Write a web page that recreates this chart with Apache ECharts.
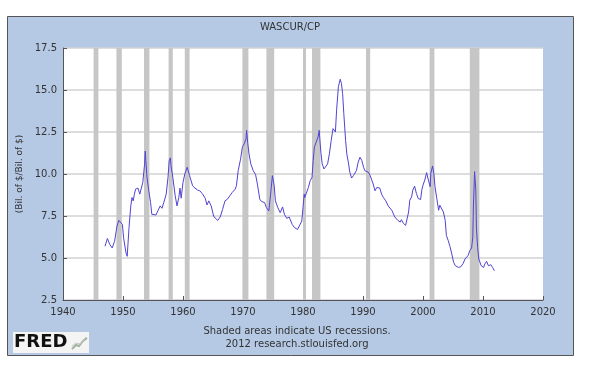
<!DOCTYPE html>
<html>
<head>
<meta charset="utf-8">
<script src="https://cdn.jsdelivr.net/npm/echarts@6/dist/echarts.min.js"></script>
<style>html,body{margin:0;padding:0;background:#fff}#c{width:600px;height:366px}</style>
</head>
<body>
<div id="c"></div>
<script>
var years = [1947.0,1947.4,1947.8,1948.2,1948.6,1949.0,1949.3,1949.6,1949.9,1950.1,1950.5,1950.7,1951.0,1951.3,1951.5,1951.7,1951.9,1952.1,1952.5,1952.8,1953.1,1953.3,1953.6,1953.7,1953.8,1954.0,1954.3,1954.6,1954.8,1955.1,1955.5,1955.8,1956.2,1956.5,1956.8,1957.2,1957.5,1957.7,1957.9,1958.0,1958.3,1958.7,1959.0,1959.3,1959.5,1959.7,1960.0,1960.3,1960.7,1961.1,1961.6,1962.0,1962.4,1962.8,1963.2,1963.7,1964.0,1964.3,1964.7,1965.1,1965.4,1965.8,1966.2,1966.6,1967.0,1967.4,1967.8,1968.2,1968.7,1968.9,1969.2,1969.6,1969.9,1970.2,1970.5,1970.6,1970.8,1971.0,1971.3,1971.7,1972.1,1972.4,1972.8,1973.1,1973.6,1973.9,1974.3,1974.6,1974.9,1975.2,1975.4,1975.8,1976.2,1976.6,1976.9,1977.3,1977.7,1978.2,1978.6,1979.1,1979.4,1979.8,1980.0,1980.2,1980.3,1980.6,1980.9,1981.2,1981.5,1981.7,1981.9,1982.2,1982.5,1982.7,1982.8,1983.0,1983.2,1983.5,1983.8,1984.1,1984.4,1984.7,1985.0,1985.2,1985.4,1985.6,1985.9,1986.2,1986.4,1986.6,1986.8,1987.1,1987.3,1987.6,1987.8,1988.1,1988.4,1988.7,1988.9,1989.2,1989.5,1989.8,1990.1,1990.3,1990.6,1990.9,1991.2,1991.4,1991.7,1992.0,1992.3,1992.6,1992.8,1993.1,1993.4,1993.8,1994.2,1994.8,1995.3,1995.8,1996.2,1996.4,1996.7,1997.1,1997.4,1997.6,1997.8,1998.1,1998.3,1998.6,1998.9,1999.2,1999.6,1999.8,2000.0,2000.3,2000.6,2000.9,2001.2,2001.3,2001.6,2001.8,2002.0,2002.3,2002.6,2002.8,2003.1,2003.4,2003.7,2003.9,2004.2,2004.5,2004.8,2005.1,2005.4,2005.9,2006.3,2006.7,2007.0,2007.3,2007.5,2007.8,2008.1,2008.3,2008.4,2008.6,2008.8,2008.9,2009.1,2009.3,2009.7,2010.1,2010.3,2010.6,2010.9,2011.3,2011.6,2011.9];
var values = [5.7,6.16,5.8,5.6,6.0,6.9,7.24,7.14,7.0,6.2,5.3,5.1,6.8,8.1,8.6,8.4,8.8,9.1,9.16,8.8,8.7,9.5,10.6,11.36,10.8,9.8,9.0,8.3,7.6,7.5,7.56,7.8,8.1,7.96,8.3,8.8,9.8,10.8,10.96,10.5,9.8,8.7,8.1,8.6,9.16,8.56,9.5,10.0,10.4,9.9,9.3,9.16,9.05,9.0,8.84,8.56,8.16,8.4,8.1,7.5,7.36,7.24,7.44,7.9,8.4,8.5,8.7,8.9,9.1,9.3,10.2,10.9,11.6,11.8,12.1,12.6,11.8,11.2,10.6,10.2,9.96,9.4,8.5,8.36,8.3,8.0,7.8,8.8,9.9,9.3,8.4,8.0,7.7,8.04,7.6,7.36,7.44,7.0,6.8,6.7,6.8,7.2,8.0,8.8,8.6,8.7,9.2,9.6,9.8,10.8,11.6,11.9,12.2,12.6,12.1,11.2,10.6,10.3,10.2,10.6,11.2,12.0,12.7,12.6,12.5,13.8,15.2,15.64,15.4,14.8,13.6,12.0,11.2,10.6,10.1,9.76,9.9,9.84,10.2,10.7,11.0,10.8,10.4,10.2,10.24,10.1,9.9,9.7,9.4,9.0,9.2,9.1,9.16,8.8,8.6,8.4,8.1,7.84,7.44,7.24,7.14,7.28,7.08,6.94,6.84,7.74,8.44,8.64,9.04,9.28,8.84,8.54,8.48,9.04,9.34,9.64,10.08,9.64,9.24,10.04,10.48,10.04,9.24,8.54,7.84,8.14,8.24,7.74,7.24,6.34,6.04,5.68,5.24,4.74,4.54,4.44,4.48,4.68,4.94,5.0,5.14,5.44,5.6,6.24,8.04,10.14,9.04,6.84,5.64,4.94,4.54,4.44,4.64,4.8,4.54,4.6,4.44,4.24];
var recStart = [1945.1,1948.9,1953.5,1957.6,1960.3,1969.9,1973.9,1980.0,1981.5,1990.5,2001.1,2007.8];
var recEnd   = [1945.9,1949.8,1954.4,1958.3,1961.1,1970.9,1975.2,1980.5,1982.9,1991.2,2001.9,2009.4];
var xTicks = [1940,1950,1960,1970,1980,1990,2000,2010,2020];
var yTicks = [2.5,5.0,7.5,10.0,12.5,15.0,17.5];
var titleText = 'WASCUR/CP';
var yName = '(Bil. of $/Bil. of $)';
var footer1 = 'Shaded areas indicate US recessions.';
var footer2 = '2012 research.stlouisfed.org';

var data = years.map(function (y, i) { return [y, values[i]]; });
var rec = recStart.map(function (s, i) { return [{ xAxis: s }, { xAxis: recEnd[i] }]; });
var F = 'DejaVu Sans';
var chart = echarts.init(document.getElementById('c'), null, { renderer: 'canvas' });
chart.setOption({
  backgroundColor: '#ffffff',
  animation: false,
  grid: { left: 63, top: 48, width: 480, height: 252, show: true, backgroundColor: '#ffffff', borderWidth: 0 },
  xAxis: {
    type: 'value', min: xTicks[0], max: xTicks[xTicks.length - 1], interval: 10,
    axisLine: { show: true, lineStyle: { color: '#555', width: 1 } },
    axisTick: { show: true, inside: true, length: 4, lineStyle: { color: '#555' } },
    axisLabel: { color: '#333', fontFamily: F, fontSize: 10, margin: 7, formatter: function (v) { return String(v); } },
    splitLine: { show: false }
  },
  yAxis: {
    type: 'value', min: yTicks[0], max: yTicks[yTicks.length - 1], interval: 2.5,
    name: yName, nameLocation: 'middle', nameGap: 38, nameRotate: 90,
    nameTextStyle: { color: '#333', fontFamily: F, fontSize: 9 },
    axisLine: { show: true, lineStyle: { color: '#555', width: 1 } },
    axisTick: { show: true, inside: true, length: 4, lineStyle: { color: '#555' } },
    axisLabel: { color: '#333', fontFamily: F, fontSize: 10, margin: 6, formatter: function (v) { return v.toFixed(1); } },
    splitLine: { show: true, lineStyle: { color: '#d2d2d2', width: 1.5 } }
  },
  series: [{
    type: 'line', data: data, showSymbol: false, symbol: 'none',
    lineStyle: { color: '#5044d2', width: 1 },
    markArea: { silent: true, itemStyle: { color: '#c6c6c6' }, data: rec }
  }],
  graphic: [
    { type: 'rect', z: -100, shape: { x: 7.5, y: 16.5, width: 566, height: 339 }, style: { fill: '#b5c9e5', stroke: '#555', lineWidth: 1 } },
    { type: 'text', z: 10, x: 290, y: 27, style: { text: titleText, fill: '#333', font: '10px "DejaVu Sans"', textAlign: 'center', textVerticalAlign: 'middle' } },
    { type: 'text', z: 10, x: 297, y: 331, style: { text: footer1, fill: '#333', font: '10px "DejaVu Sans"', textAlign: 'center', textVerticalAlign: 'middle' } },
    { type: 'text', z: 10, x: 297, y: 344, style: { text: footer2, fill: '#333', font: '10px "DejaVu Sans"', textAlign: 'center', textVerticalAlign: 'middle' } },
    { type: 'rect', z: 10, shape: { x: 13, y: 332, width: 76, height: 21 }, style: { fill: '#f4f4f4' } },
    { type: 'text', z: 11, x: 14, y: 342.5, style: { text: 'FRED', fill: '#111', font: 'bold 18px "DejaVu Sans"', textAlign: 'left', textVerticalAlign: 'middle' } },
    { type: 'polyline', z: 11, shape: { points: [[72, 349], [76, 345], [79, 346], [83, 341], [87, 338]] }, style: { stroke: '#9fb59f', lineWidth: 2, fill: null } },
    { type: 'polyline', z: 11, shape: { points: [[72, 346], [76, 343], [80, 344], [86, 337]] }, style: { stroke: '#c9c9c9', lineWidth: 1, fill: null } }
  ]
});
</script>
</body>
</html>
